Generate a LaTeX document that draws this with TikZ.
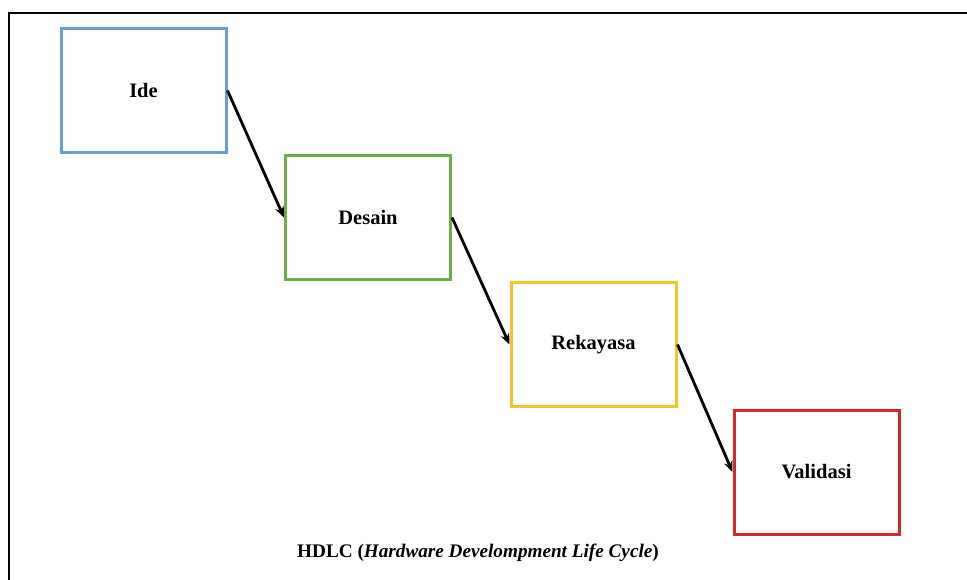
\documentclass[tikz,border=0pt]{standalone}
\usepackage{fontspec}
\setmainfont{Liberation Serif}
\usetikzlibrary{arrows.meta}
\definecolor{cblue}{RGB}{104,157,206}
\definecolor{cgreen}{RGB}{114,172,74}
\definecolor{cyellow}{RGB}{242,197,48}
\definecolor{cred}{RGB}{216,36,44}
\tikzset{
  stagebox/.style={draw, line width=3pt, minimum width=165pt, minimum height=124pt, inner sep=0pt, font=\fontsize{20.5}{24}\selectfont\bfseries, fill=white},
  flowarrow/.style={line width=2.8pt, -{Stealth[length=11pt,width=9pt]}},
}
\begin{document}
\begin{tikzpicture}[x=1pt,y=-1pt]
\useasboundingbox (0,0) rectangle (967,580);
\fill[white] (0,0) rectangle (967,580);
\coordinate (fb) at (9,580);
\coordinate (fc) at (9,13);
\coordinate (fr) at (967,13);
\draw[line width=2pt] (fb) -- (fc) -- (fr);
\node[stagebox, draw=cblue] (ide) at (143.5,90.5) {Ide};
\node[stagebox, draw=cgreen] (des) at (368,217.5) {Desain};
\node[stagebox, draw=cyellow] (rek) at (593.5,344.5) {Rekayasa};
\node[stagebox, draw=cred] (val) at (816.5,472) {Validasi};
\draw[flowarrow] (ide.east) -- (des.west);
\draw[flowarrow] (des.east) -- (rek.west);
\draw[flowarrow] (rek.east) -- (val.west);
\node[font=\fontsize{19.2}{23}\selectfont\bfseries] (cap) at (478,553) {HDLC (\textit{Hardware Develompment Life Cycle})};
\end{tikzpicture}
\end{document}
